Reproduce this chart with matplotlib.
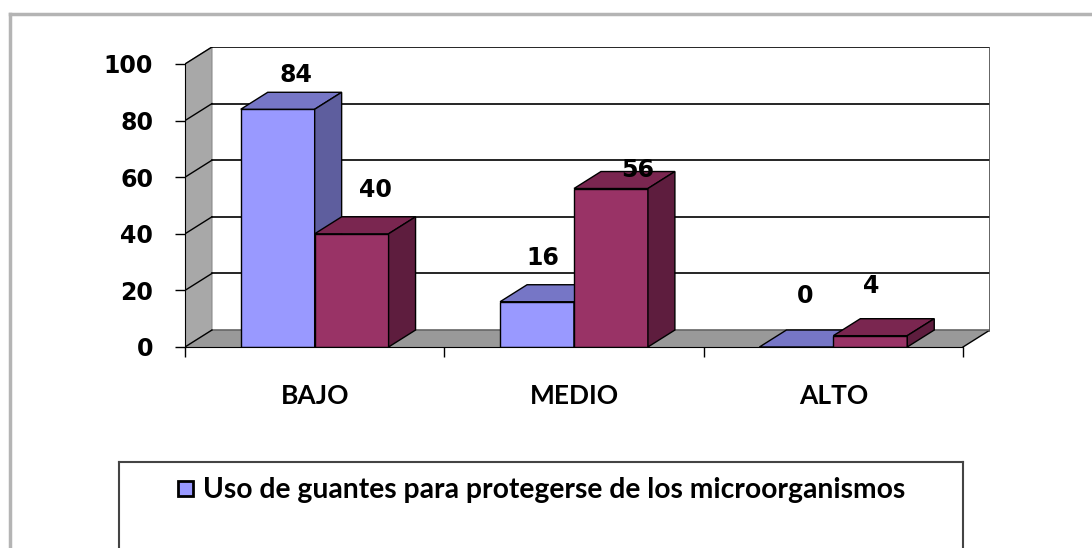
import matplotlib
matplotlib.use("Agg")
import matplotlib.pyplot as plt
from matplotlib.patches import Polygon, Rectangle
import numpy as np

# data
categories = ["BAJO", "MEDIO", "ALTO"]
serie_azul = [84, 16, 0]
serie_granate = [40, 56, 4]
legend_label = "Uso de guantes para protegerse de los microorganismos"
yticks = [0, 20, 40, 60, 80, 100]

# 3d look
ddx = 0.104   # depth in category units
ddy = 6.0     # depth in value units
bw = 0.285    # bar width
label_dy_azul = [12, 15.5, 18]
label_dy_gran = [15.5, 6.5, 17.5]
label_dx_azul = [0.02, -0.03, -0.02]
label_dx_gran = [0.04, 0.05, -0.05]

blue = dict(front="#9999ff", top="#7676c6", side="#5e5e9e")
maroon = dict(front="#993366", top="#7a2650", side="#5e1d3e")

fig = plt.figure(figsize=(10.92, 5.48), dpi=100)

# outer frame (gray) like the Excel chart area
fig.add_artist(plt.Line2D([10/1092, 10/1092], [0, 1 - 14/548], transform=fig.transFigure,
                          color="#b4b4b4", lw=2.5))
fig.add_artist(plt.Line2D([10/1092, 1], [1 - 14/548, 1 - 14/548], transform=fig.transFigure,
                          color="#b4b4b4", lw=2.5))

ax = fig.add_axes([185/1092, 1 - 347/548, (990 - 185)/1092, 300/548])
ax.set_xlim(-0.5, 2.5 + ddx)
ax.set_ylim(0, 100 + ddy)
ax.patch.set_visible(False)

x0, x1 = -0.5, 2.5

# left side wall
ax.add_patch(Polygon([(x0, 0), (x0 + ddx, ddy), (x0 + ddx, 100 + ddy), (x0, 100)],
                     closed=True, facecolor="#a8a8a8", edgecolor="#888888", lw=0.8, zorder=1))
# floor
ax.add_patch(Polygon([(x0, 0), (x1, 0), (x1 + ddx, ddy), (x0 + ddx, ddy)],
                     closed=True, facecolor="#999999", edgecolor="none", zorder=1))
ax.plot([x1, x1 + ddx], [0, ddy], color="black", lw=1, zorder=2)

# gridlines on back wall and side wall
for v in yticks:
    ax.plot([x0 + ddx, x1 + ddx], [v + ddy, v + ddy], color="black" if v > 0 else "#666666",
            lw=1.2, zorder=2)
    ax.plot([x0, x0 + ddx], [v, v + ddy], color="black", lw=1.0, zorder=2)
ax.plot([x1 + ddx, x1 + ddx], [ddy, 100 + ddy], color="#555555", lw=2, zorder=2)


def bar3d(xl, h, c):
    xr = xl + bw
    ax.add_patch(Rectangle((xl, 0), bw, h, facecolor=c["front"], edgecolor="black", lw=1, zorder=3))
    ax.add_patch(Polygon([(xl, h), (xr, h), (xr + ddx, h + ddy), (xl + ddx, h + ddy)],
                         closed=True, facecolor=c["top"], edgecolor="black", lw=1, zorder=3))
    ax.add_patch(Polygon([(xr, 0), (xr + ddx, ddy), (xr + ddx, h + ddy), (xr, h)],
                         closed=True, facecolor=c["side"], edgecolor="black", lw=1, zorder=3))


xs = np.arange(len(categories))
for i in xs:
    bar3d(i - bw, serie_azul[i], blue)
    bar3d(i, serie_granate[i], maroon)

num_font = dict(family="DejaVu Sans", fontweight="bold", fontsize=17, color="black")
for i in xs:
    ax.text(i - bw / 2 + ddx / 2 + label_dx_azul[i], serie_azul[i] + label_dy_azul[i],
            str(serie_azul[i]), ha="center", va="center", zorder=5, **num_font)
    ax.text(i + bw / 2 + ddx / 2 + label_dx_gran[i], serie_granate[i] + label_dy_gran[i],
            str(serie_granate[i]), ha="center", va="center", zorder=5, **num_font)

# axes / spines
for s in ["top", "right"]:
    ax.spines[s].set_visible(False)
ax.spines["left"].set_bounds(0, 100)
ax.spines["bottom"].set_bounds(x0, x1)
ax.spines["left"].set_zorder(4)
ax.spines["bottom"].set_zorder(4)
ax.set_yticks(yticks)
ax.set_yticklabels([str(v) for v in yticks])
for lbl in ax.get_yticklabels():
    lbl.set_fontfamily("DejaVu Sans")
    lbl.set_fontweight("bold")
    lbl.set_fontsize(17)
ax.tick_params(axis="y", length=7, width=1, pad=16)
ax.set_xticks(xs)
ax.set_xticklabels(categories)
for lbl in ax.get_xticklabels():
    lbl.set_fontfamily("Lato")
    lbl.set_fontweight("bold")
    lbl.set_fontsize(19)
ax.set_xticks([-0.5, 0.5, 1.5, 2.5], minor=True)
ax.tick_params(axis="x", which="major", length=0, pad=27)
ax.tick_params(axis="x", which="minor", length=7, width=1)

# legend box
lax = fig.add_axes([119/1092, -0.02, (963 - 119)/1092, 1 - 462/548 + 0.02])
lax.set_xlim(0, 1)
lax.set_ylim(0, 1)
lax.set_xticks([])
lax.set_yticks([])
for s in lax.spines.values():
    s.set_color("#444444")
    s.set_linewidth(1.5)
lh = 1 - 462/548 + 0.02   # legend axes height in figure fraction
ph = lh * 548               # in pixels
lax.add_patch(Rectangle((59/844, 1 - 34/ph), 15/844, 15/ph, transform=lax.transAxes,
                        facecolor=blue["front"], edgecolor="black", lw=2))
lax.text(84/844, 1 - 28/ph, legend_label, transform=lax.transAxes, ha="left", va="center",
         family="Lato", fontweight="bold", fontsize=20.3, color="black")

fig.savefig("out.png", dpi=100)
